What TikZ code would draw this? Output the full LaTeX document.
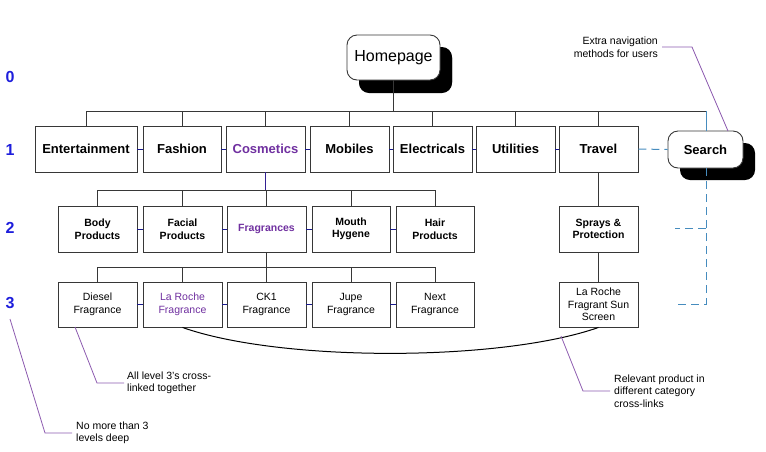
\documentclass[tikz,border=0pt]{standalone}
\usepackage{fontspec}
\setmainfont{Liberation Sans}
\usetikzlibrary{shadows}
\definecolor{linecol}{RGB}{55,55,55}
\definecolor{navy}{RGB}{25,25,140}
\definecolor{purp}{RGB}{112,48,160}
\definecolor{annop}{RGB}{140,90,175}
\definecolor{lblue}{RGB}{70,140,190}
\definecolor{lvlblue}{RGB}{30,30,220}
\tikzset{
  box/.style={draw=linecol, line width=0.9pt, fill=white, minimum height=46pt, inner sep=1pt, align=center},
  lone/.style={box, font=\fontsize{13}{15}\selectfont\bfseries},
  ltwo/.style={box, font=\fontsize{10.5}{12.5}\selectfont\bfseries},
  lthree/.style={box, minimum height=45pt, font=\fontsize{10.5}{12.5}\selectfont},
  rbox/.style={draw=linecol, line width=0.9pt, fill=white, rounded corners=10pt, align=center,
     drop shadow={shadow xshift=12pt, shadow yshift=-12pt, fill=black, opacity=1}},
  conn/.style={draw=linecol, line width=0.9pt},
  slink/.style={draw=navy, line width=1pt},
  dlink/.style={draw=lblue, line width=1pt, dash pattern=on 8pt off 5pt},
  anno/.style={draw=annop, line width=0.8pt},
  annot/.style={font=\fontsize{10.5}{12.5}\selectfont, align=left, inner sep=0pt},
  lvl/.style={font=\fontsize{16}{18}\selectfont\bfseries, text=lvlblue, inner sep=0pt},
}
\begin{document}
\begin{tikzpicture}[x=1pt,y=-1pt]
\useasboundingbox (0,0) rectangle (766,451);
% level labels
\node[lvl] (l0) at (10,77) {0};
\node[lvl] (l1) at (10,150) {1};
\node[lvl] (l2) at (10,228) {2};
\node[lvl] (l3) at (10,303) {3};
% homepage and search
\node[rbox, minimum width=93pt, minimum height=45pt, font=\fontsize{16}{18}\selectfont,
  drop shadow={shadow xshift=12pt, shadow yshift=-13pt, fill=black, opacity=1}] (hp) at (393.5,57.5) {Homepage};
\node[rbox, minimum width=75pt, minimum height=37pt, font=\fontsize{13}{15}\selectfont\bfseries] (search) at (705.5,149.5) {Search};
% level 1
\node[lone, minimum width=102pt] (ent) at (86,149) {Entertainment};
\node[lone, minimum width=78pt] (fas) at (182,149) {Fashion};
\node[lone, minimum width=79pt, text=purp] (cos) at (265.5,149) {Cosmetics};
\node[lone, minimum width=79pt] (mob) at (349.5,149) {Mobiles};
\node[lone, minimum width=79pt] (ele) at (432.5,149) {Electricals};
\node[lone, minimum width=79pt] (uti) at (515.5,149) {Utilities};
\node[lone, minimum width=79pt] (tra) at (598.5,149) {Travel};
% level 2
\node[ltwo, minimum width=79pt] (body) at (97.5,229) {Body\\Products};
\node[ltwo, minimum width=79pt] (fac) at (182.5,229) {Facial\\Products};
\node[ltwo, minimum width=79pt, text=purp] (fra) at (266.5,229) {Fragrances};
\node[ltwo, minimum width=78pt] (mou) at (351,229) {Mouth\\Hygene};
\node[ltwo, minimum width=78pt] (hair) at (435,229) {Hair\\Products};
\node[ltwo, minimum width=79pt] (spr) at (598.5,229) {Sprays \&\\Protection};
% level 3
\node[lthree, minimum width=79pt] (die) at (97.5,304.5) {Diesel\\Fragrance};
\node[lthree, minimum width=79pt, text=purp] (lar) at (182.5,304.5) {La Roche\\Fragrance};
\node[lthree, minimum width=79pt] (ck) at (266.5,304.5) {CK1\\Fragrance};
\node[lthree, minimum width=78pt] (jup) at (351,304.5) {Jupe\\Fragrance};
\node[lthree, minimum width=78pt] (nex) at (435,304.5) {Next\\Fragrance};
\node[lthree, minimum width=79pt] (sun) at (598.5,304.5) {La Roche\\Fragrant Sun\\Screen};
% tree level 0 -> 1
\coordinate (t0) at (393.5,111);
\coordinate (tl) at (86,111);
\coordinate (tr) at (706,111);
\draw[conn] (hp.south) -- (t0);
\draw[conn] (tl) -- (tr);
\foreach \n in {ent,fas,cos,mob,ele,uti,tra}{
  \draw[conn] (\n.north) -- (\n.north |- t0);
}
\draw[draw=lblue, line width=1pt] (tr) -- (search.north -| tr);
% short links level 1
\draw[slink] (ent.east) -- (fas.west);
\draw[slink] (fas.east) -- (cos.west);
\draw[slink] (cos.east) -- (mob.west);
\draw[slink] (mob.east) -- (ele.west);
\draw[slink] (ele.east) -- (uti.west);
\draw[slink] (uti.east) -- (tra.west);
\draw[dlink] (tra.east) -- (search.west);
% tree level 1 -> 2
\coordinate (t1) at (266.5,190);
\draw[draw=navy!70!purp, line width=1pt] (cos.south) -- (cos.south |- t1);
\draw[conn] (body.north |- t1) -- (hair.north |- t1);
\foreach \n in {body,fac,fra,mou,hair}{
  \draw[conn] (\n.north) -- (\n.north |- t1);
}
\draw[slink] (body.east) -- (fac.west);
\draw[slink] (fac.east) -- (fra.west);
\draw[slink] (fra.east) -- (mou.west);
\draw[slink] (mou.east) -- (hair.west);
% tree level 2 -> 3
\coordinate (t2) at (266.5,267);
\draw[conn] (fra.south) -- (t2);
\draw[conn] (die.north |- t2) -- (nex.north |- t2);
\foreach \n in {die,lar,ck,jup,nex}{
  \draw[conn] (\n.north) -- (\n.north |- t2);
}
\draw[slink] (die.east) -- (lar.west);
\draw[slink] (lar.east) -- (ck.west);
\draw[slink] (ck.east) -- (jup.west);
\draw[slink] (jup.east) -- (nex.west);
% travel branch
\draw[conn] (tra.south) -- (spr.north);
\draw[conn] (spr.south) -- (sun.north);
% search dashed links
\coordinate (sb) at (706,304);
\coordinate (sm) at (706,228);
\coordinate (se2) at (675,228);
\coordinate (se3) at (675,304);
\draw[dlink] (search.south -| sb) -- (sb) -- (se3);
\draw[dlink] (sm) -- (se2);
% cross-link curve
\draw[draw=black, line width=1pt] (lar.south) .. controls (280,362) and (500,362) .. (sun.south);
% annotations
\node[annot, anchor=east, align=right] (a1) at (658,47) {Extra navigation\\methods for users};
\coordinate (a1b) at (692,47);
\coordinate (a1c) at (728,131);
\draw[anno] ([xshift=4pt]a1.east) -- (a1b) -- (a1c);
\node[annot, anchor=west] (a2) at (127,383) {All level 3's cross-\\linked together};
\coordinate (a2a) at (75,327);
\coordinate (a2b) at (97,383);
\draw[anno] (a2a) -- (a2b) -- ([xshift=-3pt]a2.west);
\node[annot, anchor=west] (a3) at (76,433) {No more than 3\\levels deep};
\coordinate (a3a) at (10,319);
\coordinate (a3b) at (45,433);
\draw[anno] (a3a) -- (a3b) -- ([xshift=-4pt]a3.west);
\node[annot, anchor=west] (a4) at (614,391) {Relevant product in\\different category\\cross-links};
\coordinate (a4a) at (561,336);
\coordinate (a4b) at (583,391);
\draw[anno] (a4a) -- (a4b) -- ([xshift=-4pt]a4.west);
\end{tikzpicture}
\end{document}
